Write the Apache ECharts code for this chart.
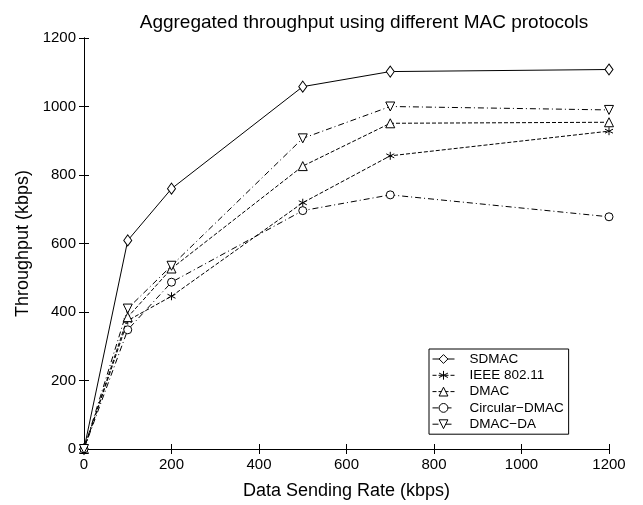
<!DOCTYPE html>
<html><head><meta charset="utf-8">
<script src="https://cdn.jsdelivr.net/npm/echarts@6/dist/echarts.min.js"></script>
<style>html,body{margin:0;padding:0;background:#fff}#c{width:643px;height:505px}</style>
</head><body><div id="c"></div>
<script>
const rates = [0, 100, 200, 500, 700, 1200];
const sdmac = [0, 609, 760, 1058, 1102, 1108];
const ieee = [0, 375, 446, 719, 856, 928];
const dmac = [0, 385, 527, 826, 951, 954];
const circular = [0, 348, 487, 696, 742, 678];
const dmacDa = [0, 410, 535, 907, 1000, 990];
const names = ['SDMAC', 'IEEE 802.11', 'DMAC', 'Circular\u2212DMAC', 'DMAC\u2212DA'];

const font = 'Liberation Sans, Arial, Helvetica, sans-serif';
const star = 'path://M0,-10L0,10M-8.66,-5L8.66,5M-8.66,5L8.66,-5';
function pts(arr){ return rates.map((x,i)=>[x, arr[i]]); }
function mk(name, arr, symbol, lineType, size, rot){
  return {
    name, type:'line', data: pts(arr), symbol, symbolSize: size, symbolRotate: rot||0,
    showAllSymbol: true,
    lineStyle:{color:'#000', width:1, type: lineType},
    itemStyle:{color:'#fff', borderColor:'#000', borderWidth:1},
    emphasis:{disabled:true}, animation:false
  };
}
const chart = echarts.init(document.getElementById('c'), null, {renderer:'canvas'});
const axisCommon = {
  min:0, max:1200, interval:200,
  axisLine:{show:true, lineStyle:{color:'#000', width:1}},
  axisTick:{show:true, inside:true, length:5, lineStyle:{color:'#000'}},
  splitLine:{show:false}
};
const lbl = {fontFamily:font, fontSize:15, color:'#000', margin:8, formatter: v => String(v)};
chart.setOption({
  animation:false,
  title:{text:'Aggregated throughput using different MAC protocols', left:359, top:8, textAlign:'center',
    textStyle:{fontFamily:font, fontSize:19, fontWeight:'normal', color:'#000'}},
  grid:{left:84, right:34, top:38, bottom:53},
  legend:{
    orient:'vertical', left:429, top:349, width:138,
    backgroundColor:'#fff', borderColor:'#000', borderWidth:1, borderRadius:0,
    padding:[3,5,3,3], itemGap:2.3, itemWidth:22, itemHeight:11,
    itemStyle:{borderWidth:1, color:'#fff', borderColor:'#000'},
    lineStyle:{width:1, color:'#000'},
    textStyle:{fontFamily:font, fontSize:13.5, color:'#000', lineHeight:14, padding:[0,0,0,10]},
    data: names
  },
  xAxis:[
    Object.assign({type:'value', position:'bottom', name:'Data Sending Rate (kbps)', nameLocation:'middle', nameGap:33,
      nameTextStyle:{fontFamily:font, fontSize:18, color:'#000'},
      axisLabel:lbl}, axisCommon),
    Object.assign({type:'value', position:'top', axisLabel:{show:false}}, axisCommon)
  ],
  yAxis:[
    Object.assign({type:'value', position:'left', name:'Throughput (kbps)', nameLocation:'middle', nameGap:52,
      nameTextStyle:{fontFamily:font, fontSize:18, color:'#000'},
      axisLabel:lbl}, axisCommon),
    Object.assign({type:'value', position:'right', axisLabel:{show:false}}, axisCommon)
  ],
  series:[
    mk(names[0], sdmac, 'diamond', 'solid', [8,11]),
    mk(names[1], ieee, star, 'dashed', 8),
    mk(names[2], dmac, 'triangle', 'dashed', 9),
    mk(names[3], circular, 'circle', [6,3,1,3], 8),
    mk(names[4], dmacDa, 'triangle', [6,3,1,3], 9, 180)
  ]
});
</script></body></html>
